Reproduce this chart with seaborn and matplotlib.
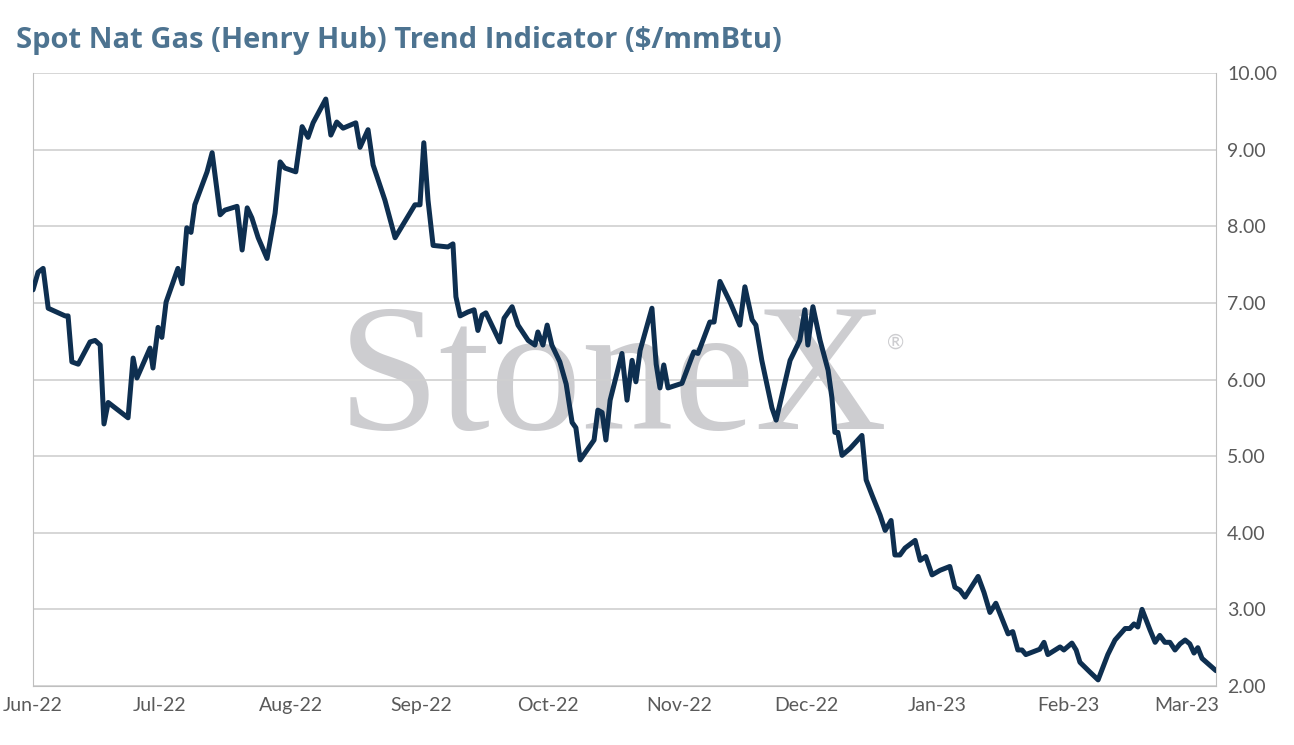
import matplotlib
matplotlib.use("Agg")
import matplotlib.pyplot as plt
import matplotlib.dates as mdates
import seaborn as sns
import pandas as pd

# Data: days after 2022-06-01 and $/mmBtu
DAYS = [0, 1.2, 2.4, 3.6, 7.6, 8.3, 9.2, 10.7, 13.5, 14.7, 15.9, 16.8, 17.8, 22.5, 23.7, 24.6, 27.7, 28.4, 29.6, 30.5,
        31.5, 34.3, 35.3, 36.4, 37.4, 38.3, 41.2, 42.4, 44.3, 45.4, 48.3, 49.5, 50.7, 51.8, 53.3, 55.4, 57.3, 58.5, 59.6, 62.2,
        63.7, 65.1, 66.3, 69.3, 70.5, 71.9, 73.4, 76.4, 77.4, 79.3, 80.5, 83.3, 85.7, 90.4, 91.6, 92.5, 93.5, 94.7, 98.2, 99.4,
        100.1, 101.1, 102.9, 104.4, 105.3, 106.3, 107.2, 110.5, 111.5, 113.4, 114.8, 117.2, 118.8, 119.5, 120.7, 121.7, 122.8, 124.7, 126.2, 127.6,
        128.5, 129.5, 132.8, 133.7, 134.7, 135.6, 136.6, 139.4, 140.6, 141.8, 142.7, 143.7, 146.5, 147.5, 148.4, 149.3, 150.3, 153.6, 156.4, 157.4,
        160.2, 161.2, 162.6, 165.0, 167.3, 168.5, 170.2, 171.1, 172.5, 174.9, 175.9, 179.2, 181.5, 182.7, 183.4, 184.6, 186.3, 188.2, 189.1, 189.8,
        190.5, 191.5, 193.4, 196.2, 197.2, 198.6, 200.5, 201.7, 203.1, 204.0, 205.2, 206.4, 208.8, 210.0, 211.3, 212.8, 214.7, 217.0, 218.2, 219.4,
        220.6, 223.7, 225.1, 226.5, 227.9, 230.8, 231.9, 233.1, 234.1, 235.0, 238.3, 239.3, 240.2, 243.1, 244.0, 245.9, 246.9, 247.8, 250.2, 252.1,
        254.4, 256.1, 258.5, 259.6, 260.6, 261.5, 262.5, 264.4, 265.6, 266.7, 267.9, 269.1, 270.3, 271.5, 272.7, 273.8, 274.8, 275.7, 276.7, 280.0]
PRICE = [7.17, 7.40, 7.45, 6.93, 6.83, 6.83, 6.23, 6.20, 6.49, 6.51, 6.45, 5.42, 5.70, 5.50, 6.28, 6.02, 6.41, 6.15, 6.68, 6.55,
         7.01, 7.45, 7.25, 7.98, 7.92, 8.28, 8.71, 8.96, 8.15, 8.21, 8.26, 7.69, 8.24, 8.11, 7.85, 7.58, 8.17, 8.84, 8.76, 8.71,
         9.30, 9.16, 9.35, 9.66, 9.19, 9.36, 9.28, 9.35, 9.03, 9.26, 8.80, 8.34, 7.85, 8.28, 8.28, 9.09, 8.34, 7.75, 7.73, 7.77,
         7.08, 6.83, 6.88, 6.91, 6.64, 6.84, 6.87, 6.49, 6.80, 6.95, 6.71, 6.51, 6.45, 6.62, 6.45, 6.71, 6.45, 6.23, 5.94, 5.44,
         5.37, 4.95, 5.21, 5.60, 5.57, 5.21, 5.73, 6.34, 5.73, 6.25, 5.97, 6.38, 6.93, 6.20, 5.89, 6.19, 5.89, 5.95, 6.36, 6.34,
         6.75, 6.75, 7.28, 7.01, 6.71, 7.21, 6.78, 6.71, 6.25, 5.63, 5.47, 6.25, 6.51, 6.91, 6.45, 6.95, 6.51, 6.12, 5.76, 5.31,
         5.31, 5.01, 5.10, 5.27, 4.69, 4.49, 4.23, 4.03, 4.16, 3.71, 3.71, 3.80, 3.90, 3.64, 3.69, 3.45, 3.51, 3.56, 3.29, 3.25,
         3.16, 3.43, 3.22, 2.96, 3.08, 2.68, 2.71, 2.47, 2.47, 2.41, 2.48, 2.57, 2.41, 2.51, 2.47, 2.56, 2.47, 2.31, 2.18, 2.08,
         2.41, 2.60, 2.75, 2.75, 2.81, 2.77, 3.00, 2.73, 2.57, 2.66, 2.57, 2.57, 2.47, 2.55, 2.60, 2.55, 2.43, 2.50, 2.36, 2.20]
START = "2022-06-01"
Y_TICKS = [2, 3, 4, 5, 6, 7, 8, 9, 10]

LINE_COL = "#0e2f50"
TITLE_COL = "#4d7390"
TEXT_COL = "#5a5a5a"
GRID_COL = "#d0d0d0"
MARK_COL = "#cdcdd0"

sns.set_style("white")
plt.rcParams["font.family"] = ["Lato", "DejaVu Sans"]

df = pd.DataFrame({"date": pd.Timestamp(START) + pd.to_timedelta(DAYS, unit="D"), "price": PRICE})

fig = plt.figure(figsize=(12.94, 7.45), dpi=100)
ax = fig.add_axes([0.0255, 0.0792, 0.9142, 0.8228])

ax.text(0.49, 0.49, "StoneX", transform=ax.transAxes, ha="center", va="center",
        fontsize=132, family="Liberation Serif", color=MARK_COL, zorder=0)
ax.text(0.722, 0.56, "®", transform=ax.transAxes, ha="left", va="center",
        fontsize=15, color=MARK_COL, zorder=0)

sns.lineplot(data=df, x="date", y="price", color=LINE_COL, linewidth=3.6, ax=ax, zorder=3)

ax.set_ylim(2, 10)
ax.set_yticks(Y_TICKS)
ax.set_yticklabels([f"{v:.2f}" for v in Y_TICKS])
ax.yaxis.tick_right()
ax.set_xlim(pd.Timestamp(START), df["date"].iloc[-1])
ax.xaxis.set_major_locator(mdates.MonthLocator())
ax.xaxis.set_major_formatter(mdates.DateFormatter("%b-%y"))
ax.grid(axis="y", color=GRID_COL, linewidth=1.2)
ax.set_xlabel("")
ax.set_ylabel("")
ax.tick_params(axis="both", labelsize=14, colors=TEXT_COL, length=0, pad=8)
for s in ["left", "right", "bottom"]:
    ax.spines[s].set_color("#bfbfbf")
ax.spines["top"].set_visible(False)

fig.text(0.012, 0.945, "Spot Nat Gas (Henry Hub) Trend Indicator ($/mmBtu)", fontsize=21,
         fontweight="bold", color=TITLE_COL, ha="left", va="center",
         family=["Open Sans", "DejaVu Sans"])

fig.savefig("out.png", dpi=100)
